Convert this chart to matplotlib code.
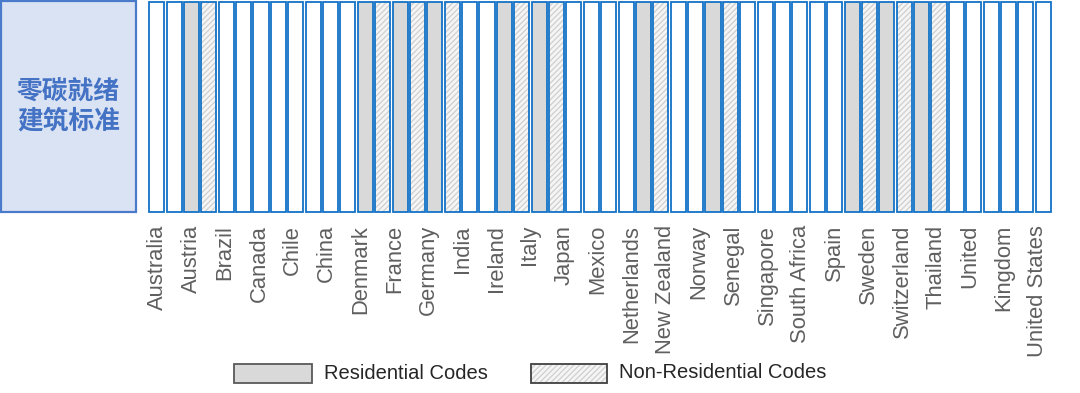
import matplotlib.pyplot as plt
from matplotlib.patches import Rectangle

plt.rcParams['font.family'] = ['Liberation Sans', 'DejaVu Sans']
plt.rcParams['hatch.linewidth'] = 0.9

# one pair of columns per country: residential code, non-residential code
countries = [
    "Australia", "Austria", "Brazil", "Canada", "Chile", "China", "Denmark",
    "France", "Germany", "India", "Ireland", "Italy", "Japan", "Mexico",
    "Netherlands", "New Zealand", "Norway", "Senegal", "Singapore",
    "South Africa", "Spain", "Sweden", "Switzerland", "Thailand",
    "United Kingdom", "United States",
]
residential = [0, 1, 0, 0, 0, 0, 1, 1, 1, 0, 1, 1, 0,
               0, 1, 0, 1, 0, 0, 0, 1, 1, 1, 0, 0, 0]
non_residential = [0, 1, 0, 0, 0, 0, 1, 1, 1, 0, 1, 1, 0,
                   0, 1, 0, 1, 0, 0, 0, 1, 1, 1, 0, 0, 0]
header = "零碳就绪\n建筑标准"
legend_labels = ["Residential Codes", "Non-Residential Codes"]

BLUE = "#1272C6"
GRAY = "#D9D9D9"
HATCH_BG = "#F5F5F5"
HATCH_FG = "#CFCFCF"

fig = plt.figure(figsize=(10.8, 3.93), dpi=100)

# header box
hax = fig.add_axes([1 / 1080, 1 - 212 / 393, 135 / 1080, 211 / 393])
hax.set_axis_off()
hax.add_patch(Rectangle((0, 0), 1, 1, transform=hax.transAxes,
                        facecolor="#DAE3F3", edgecolor="#4A7BCB", lw=1.6,
                        clip_on=False))
hax.text(0.5, 0.5, header, transform=hax.transAxes, ha="center",
         va="center", fontsize=18.5, fontweight="bold", color="#4472C4",
         family=["Noto Sans CJK SC", "DejaVu Sans"], linespacing=1.12)

# columns
ax = fig.add_axes([148 / 1080, 1 - 212 / 393, 904 / 1080, 210 / 393])
ax.set_axis_off()
n = len(countries)
ax.set_xlim(0, 2 * n)
ax.set_ylim(0, 1)

w = 0.87
lw = 1.3
res_x = [2 * i + 0.5 for i in range(n)]
non_x = [2 * i + 1.5 for i in range(n)]
res_face = [GRAY if v else "white" for v in residential]
ax.bar(res_x, 1, width=w, color=res_face, edgecolor=BLUE, lw=lw,
       clip_on=False)

for x, v in zip(non_x, non_residential):
    if v:
        ax.bar(x, 1, width=w, color=HATCH_BG, edgecolor=HATCH_FG,
               hatch="//////", lw=0, clip_on=False)
        ax.bar(x, 1, width=w, color="none", edgecolor=BLUE, lw=lw,
               clip_on=False)
    else:
        ax.bar(x, 1, width=w, color="white", edgecolor=BLUE, lw=lw,
               clip_on=False)

# country labels (United Kingdom is split over two text rows)
label_rows = []
for c in countries:
    if c == "United Kingdom":
        label_rows.extend(c.split())
    else:
        label_rows.append(c)
x0, step = 0.54, 1.948
for i, lab in enumerate(label_rows):
    ax.text(x0 + i * step, -0.062, lab, rotation=90, ha="center", va="top",
            fontsize=15.8, color="#5F5F5F",
            transform=ax.get_xaxis_transform(), clip_on=False)

# legend
lax = fig.add_axes([0, 0, 1, 1])
lax.set_axis_off()
lax.set_xlim(0, 1080)
lax.set_ylim(393, 0)
lax.add_patch(Rectangle((234, 364), 78, 19, facecolor=GRAY,
                        edgecolor="#595959", lw=1.3))
lax.text(324, 373.5, legend_labels[0], ha="left", va="center",
         fontsize=14.5, color="#262626")
lax.add_patch(Rectangle((531, 364), 76, 19, facecolor=HATCH_BG,
                        edgecolor=HATCH_FG, hatch="//////", lw=0))
lax.add_patch(Rectangle((531, 364), 76, 19, facecolor="none",
                        edgecolor="#404040", lw=1.3))
lax.text(619, 372, legend_labels[1], ha="left", va="center",
         fontsize=14.5, color="#262626")

fig.savefig("out.png", dpi=100)
